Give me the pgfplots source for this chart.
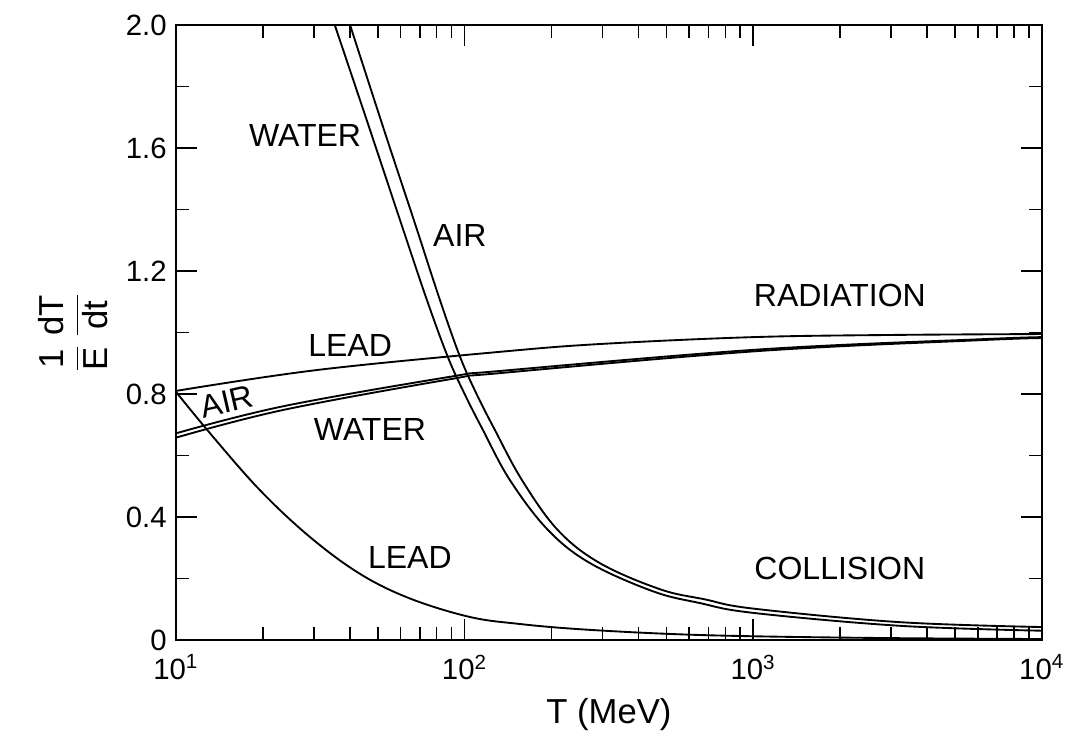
\documentclass[border=0pt]{standalone}
\usepackage{fontspec}
\setmainfont{Liberation Sans}
\usepackage{amsmath}
\usepackage{pgfplots}
\pgfplotsset{compat=1.18}

\begin{document}
\begin{tikzpicture}
  \useasboundingbox (-66pt,-40.9pt) rectangle (334.15pt,240pt);
  \begin{axis}[
      scale only axis,
      width=324.75pt, height=230.6pt,
      xmode=log,
      xmin=10, xmax=10000,
      ymin=0, ymax=2,
      xtick={10,100,1000,10000},
      xticklabels={10\textsuperscript{1},10\textsuperscript{2},10\textsuperscript{3},10\textsuperscript{4}},
      minor xtick={20,30,40,50,60,70,80,90,200,300,400,500,600,700,800,900,2000,3000,4000,5000,6000,7000,8000,9000},
      ytick={0,0.4,0.8,1.2,1.6,2.0},
      yticklabels={0,0.4,0.8,1.2,1.6,2.0},
      minor ytick={0.2,0.6,1.0,1.4,1.8},
      tick align=inside,
      major tick length=8pt,
      minor tick length=5pt,
      axis line style={line width=0.8pt},
      every tick/.style={black, line width=0.6pt},
      ticklabel style={font=\fontsize{11}{13}\selectfont},
      xticklabel style={yshift=-2pt},
      xlabel={T (MeV)},
      ylabel={$\dfrac{\text{1}}{\text{E}}\,\dfrac{\text{dT}}{\text{dt}}$},
      label style={font=\fontsize{13}{15}\selectfont},
      no markers,
      cycle list={{black,solid}},
      every axis plot/.append style={black, line width=0.7pt, smooth, tension=0.6},
    ]
    % collision, water
    \addplot coordinates {(35.5,2.0) (47.4,1.649) (60,1.36) (74.0,1.106) (87.5,0.920) (100,0.800) (115.7,0.683) (143.5,0.520) (194.3,0.358) (271.8,0.250) (450,0.158) (653,0.120) (1000,0.088) (3221,0.046) (10000,0.030)};
    % collision, air
    \addplot coordinates {(40.1,2.0) (53.0,1.649) (67,1.36) (82.1,1.106) (96.5,0.920) (110,0.800) (127.3,0.683) (158,0.520) (210,0.358) (294,0.250) (475,0.165) (680,0.132) (1000,0.102) (3200,0.058) (10000,0.042)};
    % collision, lead
    \addplot coordinates {(10,0.807) (13.1,0.673) (19.5,0.488) (29.1,0.335) (43.4,0.215) (64.6,0.135) (104,0.075) (155,0.052) (250,0.035) (500,0.020) (1000,0.012) (3000,0.006) (10000,0.003)};
    % radiation, lead
    \addplot coordinates {(10,0.810) (30.8,0.878) (132,0.937) (300,0.963) (1000,0.985) (3000,0.992) (10000,0.995)};
    % radiation, air
    \addplot coordinates {(10,0.672) (23.5,0.760) (89,0.856) (133,0.875) (1054,0.945) (6095,0.978) (10000,0.985)};
    % radiation, water
    \addplot coordinates {(10,0.658) (23.5,0.748) (89,0.848) (133,0.868) (1054,0.940) (6095,0.975) (10000,0.982)};

    \begin{scope}[every node/.style={font=\fontsize{12}{14}\selectfont}]
      \node at (axis cs:28.0,1.642) {WATER};
      \node at (axis cs:96.3,1.317) {AIR};
      \node at (axis cs:1995,1.122) {RADIATION};
      \node at (axis cs:40.1,0.959) {LEAD};
      \node[rotate=13] at (axis cs:15.0,0.774) {AIR};
      \node at (axis cs:47.0,0.683) {WATER};
      \node at (axis cs:64.6,0.267) {LEAD};
      \node at (axis cs:1995,0.234) {COLLISION};
    \end{scope}
  \end{axis}
\end{tikzpicture}
\end{document}
